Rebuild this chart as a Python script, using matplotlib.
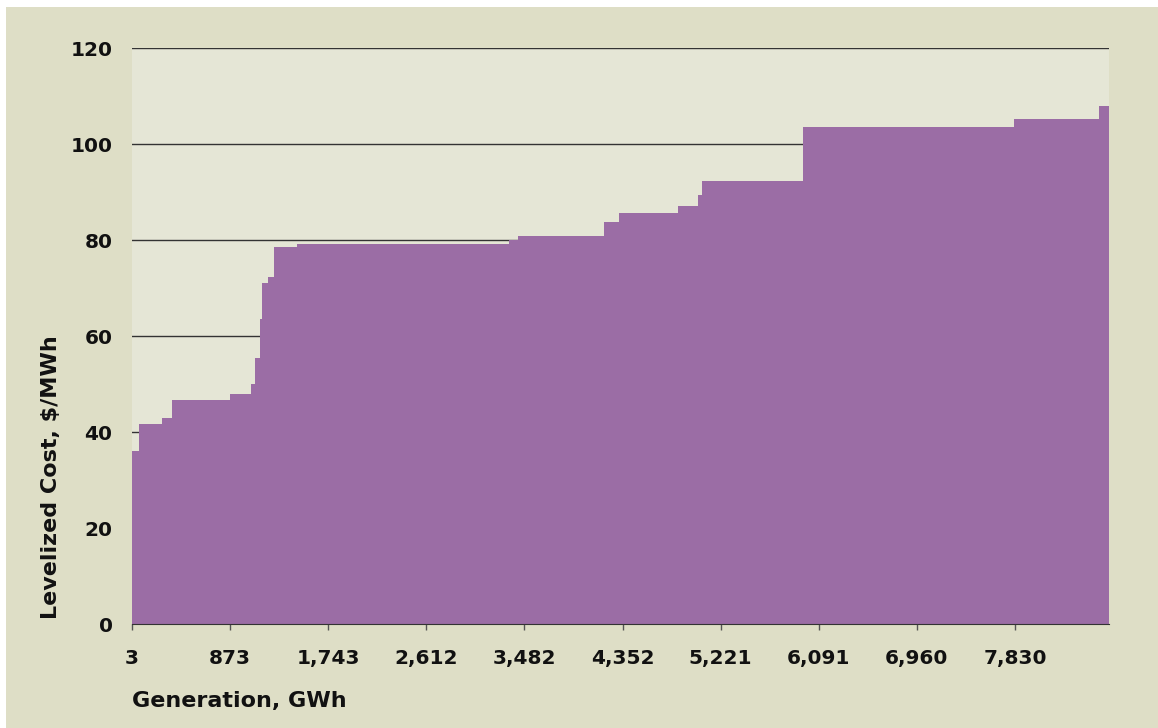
import numpy as np
import matplotlib
matplotlib.use('Agg')
import matplotlib.pyplot as plt
from matplotlib.patches import Rectangle

# supply curve: block edges (GWh) and levelized cost of each block ($/MWh)
gen_edges = [3, 65, 269, 358, 872, 1058, 1093, 1138, 1155, 1209, 1262, 1466,
             3345, 3425, 4187, 4320, 4843, 5020, 5056, 5951, 7822, 8575, 8681]
cost = [36.0, 41.7, 42.9, 46.7, 47.9, 50.0, 55.4, 63.5, 71.0, 72.3, 78.5, 79.2,
        80.0, 80.8, 83.8, 85.6, 87.1, 89.4, 92.3, 103.5, 105.2, 108.0]
xticks = [3, 873, 1743, 2612, 3482, 4352, 5221, 6091, 6960, 7830]
yticks = [0, 20, 40, 60, 80, 100, 120]

outer_bg = '#dedec6'
plot_bg = '#e5e6d6'
purple = '#9b6da5'
txt = '#111111'

W, H = 1158, 728
fig = plt.figure(figsize=(W/100, H/100), dpi=100, facecolor=outer_bg)
# thin white margin at top and left of the picture
fig.patches.append(Rectangle((0, 0), 6/W, 1, transform=fig.transFigure,
                             facecolor='white', edgecolor='none'))
fig.patches.append(Rectangle((0, (H-7)/H), 1, 7/H, transform=fig.transFigure,
                             facecolor='white', edgecolor='none'))

ax = fig.add_axes([132/W, (H-624)/H, (1109-132)/W, (624-48)/H])
ax.set_facecolor(plot_bg)

ax.stairs(cost, gen_edges, fill=True, color=purple, zorder=2)

ax.set_xlim(3, 8664)
ax.set_ylim(0, 120)
ax.set_yticks(yticks)
ax.set_xticks(xticks)
ax.set_xticklabels(['{:,}'.format(t) for t in xticks])
ax.yaxis.grid(True, color='#333333', linewidth=1)
ax.set_axisbelow(True)

for s in ['top', 'right', 'left']:
    ax.spines[s].set_visible(False)
ax.spines['bottom'].set_color('#333333')
ax.spines['bottom'].set_zorder(3)

ax.tick_params(axis='y', length=0, pad=14, labelsize=14.5, labelcolor=txt)
ax.tick_params(axis='x', length=4.5, width=1, color='#555555', pad=13.5,
               labelsize=14.5, labelcolor=txt)
for lab in ax.get_xticklabels() + ax.get_yticklabels():
    lab.set_fontweight('bold')

fig.text(132/W, (H-701)/H, 'Generation, GWh', fontsize=16, fontweight='bold',
         color=txt, ha='left', va='center')
fig.text(51/W, (H-477)/H, 'Levelized Cost, $/MWh', fontsize=16, fontweight='bold',
         color=txt, rotation=90, ha='center', va='center')

fig.savefig('out.png', dpi=100, facecolor=outer_bg)
